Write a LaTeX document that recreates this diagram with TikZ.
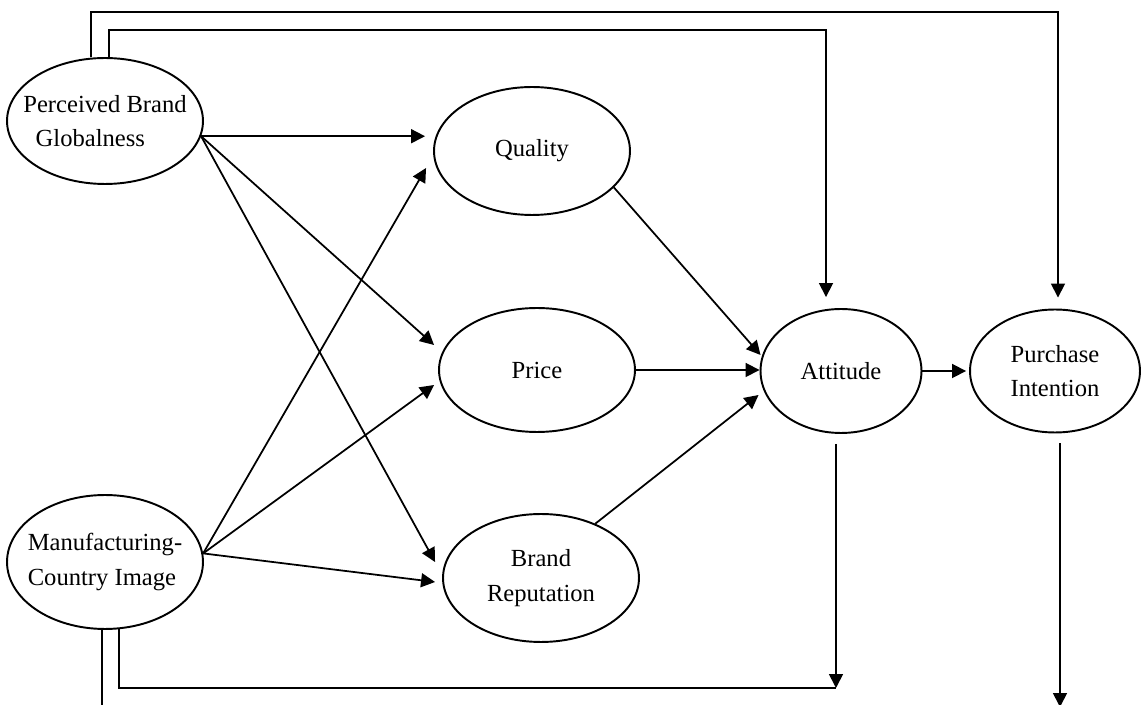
\documentclass[tikz,border=0pt]{standalone}
\usepackage{fontspec}
\setmainfont{Liberation Serif}
\usetikzlibrary{arrows.meta,positioning,shapes.geometric,calc}
\tikzset{
  construct/.style={
    ellipse,
    draw,
    line width=1.1pt,
    inner ysep=0pt,
    inner xsep=-0.45cm,
    minimum width=3.92cm,
    minimum height=2.52cm,
    align=center,
    font=\fontsize{14}{19.5}\selectfont
  },
  flow/.style={-{Triangle[length=2.8mm,width=2.8mm]},line width=1pt},
  link/.style={line width=1pt}
}

\begin{document}
\begin{tikzpicture}[x=0.02cm,y=-0.02cm]
\useasboundingbox (0,0) rectangle (1147,705);
\clip (0,0) rectangle (1147,705);

\node[construct, align=left] (pbg) at (105,121) {Perceived Brand\\\hspace*{0.5em}Globalness};
\node[construct, align=left, minimum height=2.68cm] (mci) at (105,562) {Manufacturing-\\Country Image};
\node[construct, minimum height=2.56cm] (quality) at (532,151) {Quality};
\node[construct, minimum height=2.48cm] (price) at (537,370) {Price};
\node[construct, minimum height=2.56cm] (brand) at (541,578) {Brand\\Reputation};
\node[construct, minimum width=3.22cm, minimum height=2.48cm] (att) at (841,371) {Attitude};
\node[construct, minimum width=3.4cm, minimum height=2.46cm] (pi) at (1055,371) {Purchase\\Intention};

\coordinate (top1) at (1058,12);
\coordinate (top2) at (826,30);
\coordinate (bot1) at (836,688);
\coordinate (mciout) at (102,705);
\coordinate (piout) at (1060,707);

% globalness paths
\draw[flow,shorten >=0.16cm] (pbg.-9) -- (pbg.-9 -| quality.west);
\draw[flow] (pbg.-9) -- ($(price.west)+(-4,-25)$);
\draw[flow] (pbg.-9) -- ($(brand.west)+(-7,-16)$);
\draw[flow,shorten >=0.22cm] ($(pbg.north)+(-14,0)$) |- (top1) -- (top1 |- pi.north);
\draw[flow,shorten >=0.22cm] ($(pbg.north)+(4,0)$) |- (top2) -- (top2 |- att.north);

% country image paths
\draw[flow] (mci.5) -- ($(quality.west)+(-7,17)$);
\draw[flow] (mci.5) -- ($(price.west)+(-4,15)$);
\draw[flow] (mci.5) -- ($(brand.west)+(-7,4)$);
\draw[link] (mci.south -| mciout) -- (mciout);
\draw[link] ($(mci.south)+(14,-1)$) |- (bot1);

% mediators to attitude
\draw[flow] (quality.-24) -- ($(att.west)+(1,-16)$);
\draw[flow] (price.east) -- (price.east -| att.west);
\draw[flow] (brand.45) -- ($(att.west)+(-1,24)$);
\draw[flow,shorten >=0.06cm] (att.east) -- (pi.west);

\draw[flow] ($(att.south)+(-5,10)$) -- (bot1);
\draw[flow] ($(pi.south)+(5,10)$) -- (piout);
\end{tikzpicture}
\end{document}
